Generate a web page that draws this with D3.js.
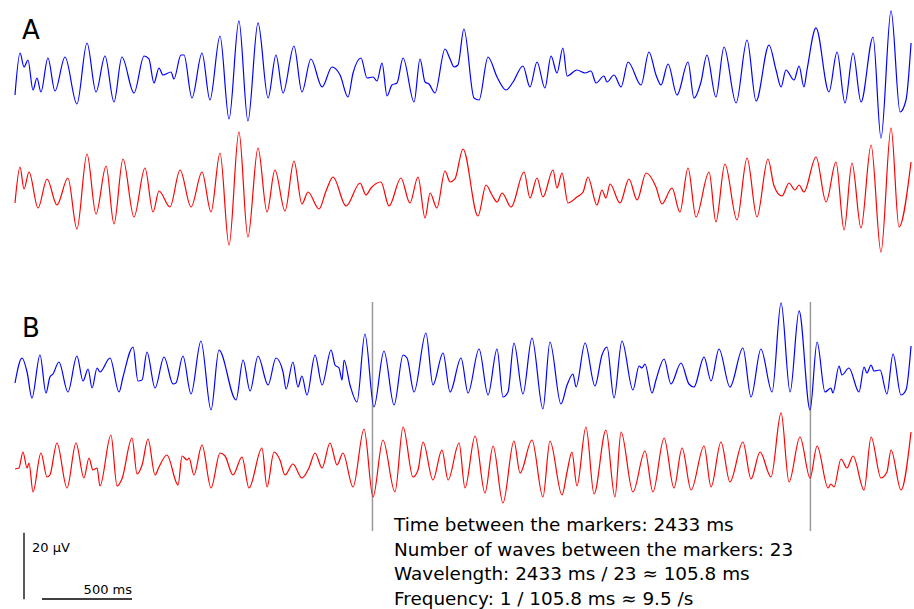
<!DOCTYPE html>
<html>
<head>
<meta charset="utf-8">
<script src="https://cdn.jsdelivr.net/npm/d3@7"></script>
<style>
  html, body { margin: 0; padding: 0; background: #ffffff; }
  svg { display: block; font-family: "DejaVu Sans", Verdana, sans-serif; }
</style>
</head>
<body>
<svg id="chart" width="914" height="609"></svg>
<script>
// ---- DATA (time in ms, amplitude in µV) ----
const panelLabels = ["A", "B"];
const seriesNames = ["channel 1", "channel 2"];

const traceABlue = [[0,-5.4],[28,7.2],[50,3.0],[72,5.1],[100,-3.9],[122,-0.3],[144,-4.5],[183,5.7],[222,-4.2],[278,6.0],[344,-8.1],[400,10.2],[450,-4.5],[500,6.3],[550,-7.5],[594,6.0],[661,-4.8],[717,6.3],[744,5.4],[772,-1.8],[800,2.7],[822,0.6],[867,1.5],[883,-0.6],[922,6.6],[939,6.6],[983,-6.3],[1039,7.2],[1083,-6.9],[1139,12.3],[1189,-12.6],[1244,16.8],[1294,-13.2],[1350,16.2],[1406,-6.3],[1450,6.6],[1489,-4.8],[1550,9.3],[1594,-4.5],[1644,5.4],[1706,-3.0],[1761,3.0],[1806,0.6],[1850,-6.0],[1878,1.2],[1922,5.7],[1956,-0.3],[1989,0],[2011,-1.2],[2039,4.2],[2067,-5.7],[2094,-2.4],[2122,-1.8],[2156,5.7],[2217,-7.5],[2250,5.4],[2278,-1.5],[2300,-2.1],[2333,-4.8],[2389,8.4],[2417,5.4],[2439,3.0],[2461,3.6],[2494,14.4],[2550,-6.3],[2578,-6.9],[2628,6.0],[2678,0],[2728,-3.9],[2767,-1.5],[2822,3.3],[2861,-3.0],[2900,4.5],[2944,-3.3],[2978,6.3],[3011,1.2],[3044,8.7],[3067,0.3],[3122,2.1],[3167,1.2],[3200,1.8],[3228,-1.8],[3272,0.3],[3289,-1.5],[3328,0.6],[3367,-3.0],[3406,4.5],[3478,-2.4],[3522,7.5],[3561,0.6],[3589,-2.4],[3628,3.9],[3678,-5.4],[3739,4.5],[3772,-6.3],[3811,-1.5],[3844,6.6],[3894,-6.0],[3939,9.0],[4006,-7.8],[4067,11.1],[4117,-7.2],[4189,9.6],[4228,2.1],[4256,-3.0],[4283,2.1],[4328,-0.9],[4356,3.3],[4383,-3.0],[4400,2.1],[4450,14.7],[4522,-4.5],[4567,7.5],[4611,-7.8],[4656,7.2],[4700,-7.5],[4767,12.0],[4811,-18.3],[4867,19.8],[4917,-10.5],[4950,-6.9],[4978,10.2]];

const traceARed = [[0,-3.9],[28,6.9],[50,0.3],[78,5.4],[128,-5.4],[178,3.3],[233,-4.5],[294,3.6],[344,-11.7],[400,10.8],[450,-7.2],[506,7.2],[550,-10.2],[600,9.3],[661,-8.1],[722,6.6],[767,-6.6],[800,-0.3],[861,-5.1],[917,6.0],[978,-5.1],[1039,5.4],[1089,-6.6],[1139,11.1],[1189,-16.5],[1244,17.4],[1294,-14.1],[1350,12.6],[1400,-6.6],[1444,6.0],[1500,-6.3],[1550,8.7],[1594,-4.2],[1628,-0.6],[1689,-5.7],[1728,-0.3],[1767,3.9],[1839,-4.8],[1917,2.1],[1950,-1.5],[1978,0.6],[2033,2.4],[2078,-4.8],[2144,3.6],[2194,-3.9],[2239,3.9],[2278,-8.4],[2306,-0.9],[2344,-5.4],[2389,5.7],[2417,2.4],[2444,3.3],[2489,12.3],[2572,-7.8],[2617,1.5],[2650,-1.5],[2678,-3.6],[2706,-0.9],[2756,-5.1],[2828,5.4],[2861,-2.4],[2900,3.6],[2933,-2.1],[2989,6.0],[3011,0.6],[3039,5.1],[3072,-3.9],[3122,-2.1],[3156,-0.6],[3183,3.9],[3233,-4.5],[3261,0],[3283,-2.4],[3306,1.8],[3361,-3.9],[3411,3.3],[3456,-3.0],[3506,5.1],[3561,0.9],[3594,-4.2],[3650,0.6],[3694,-6.6],[3739,6.6],[3783,-8.1],[3856,5.4],[3894,-9.6],[3944,7.8],[4011,-9.0],[4067,9.6],[4122,-8.1],[4183,9.3],[4217,1.2],[4261,-1.8],[4300,2.1],[4333,0],[4356,1.5],[4383,-0.6],[4450,9.9],[4506,-3.6],[4561,8.4],[4606,-12.0],[4650,8.1],[4700,-11.4],[4756,13.5],[4811,-18.6],[4867,18.6],[4911,-11.1],[4978,8.4]];

const traceBBlue = [[0,-2.4],[39,5.1],[67,0.9],[94,-6.9],[139,6.0],[172,-5.4],[194,-0.6],[211,0.3],[244,3.9],[294,-5.1],[344,5.7],[378,-1.8],[406,1.8],[428,-3.9],[456,2.1],[472,0.9],[528,5.1],[578,-5.1],[600,-0.6],[656,8.4],[683,-1.8],[706,-1.5],[733,6.9],[778,-3.9],[828,5.4],[878,-2.7],[894,-2.4],[933,5.7],[978,-5.7],[1033,10.2],[1089,-10.5],[1133,7.5],[1228,-7.5],[1267,4.5],[1306,-4.8],[1350,5.7],[1406,-3.0],[1450,5.1],[1489,0.9],[1506,-4.2],[1544,3.9],[1572,-3.6],[1594,-0.3],[1622,-6.0],[1667,6.0],[1706,-3.0],[1756,7.5],[1778,3.0],[1800,2.1],[1817,-1.5],[1828,4.5],[1861,-3.0],[1900,-8.1],[1944,12.3],[1994,-9.6],[2050,7.2],[2106,-9.0],[2156,6.0],[2178,5.1],[2217,-5.1],[2283,12.6],[2322,-3.0],[2378,6.6],[2417,-5.1],[2478,5.1],[2517,-5.4],[2578,7.8],[2628,-6.0],[2678,7.8],[2711,-6.6],[2739,-5.1],[2772,9.6],[2822,-5.7],[2872,11.1],[2933,-10.2],[2972,9.9],[3033,-8.7],[3067,-3.0],[3100,0.3],[3117,-3.6],[3167,9.6],[3222,-3.3],[3261,6.0],[3289,8.4],[3328,-6.9],[3372,10.2],[3433,-4.5],[3467,2.7],[3483,2.1],[3500,3.3],[3539,-5.4],[3561,-1.5],[3606,4.8],[3644,-2.7],[3700,3.6],[3744,-2.7],[3772,-3.6],[3828,5.4],[3867,-1.8],[3911,7.8],[3972,-3.6],[4044,8.1],[4089,-6.6],[4144,7.8],[4206,-5.1],[4256,21.6],[4306,-5.1],[4356,19.2],[4417,-10.5],[4456,9.9],[4500,-5.1],[4533,-3.9],[4544,-5.4],[4578,2.7],[4594,0],[4633,2.1],[4689,-5.1],[4717,2.4],[4733,0.6],[4756,3.0],[4772,1.2],[4806,1.5],[4844,-5.7],[4878,6.3],[4922,-6.0],[4950,-4.5],[4978,8.7]];

const traceBRed = [[0,0.3],[22,0.6],[44,5.4],[67,0.6],[78,2.1],[100,-6.6],[144,5.1],[178,-2.1],[194,-1.5],[233,8.1],[289,-5.4],[339,8.1],[383,-2.4],[411,3.6],[433,0],[456,0.6],[472,-4.8],[533,10.5],[567,-4.8],[594,-2.7],[650,9.6],[678,-1.2],[706,1.5],[739,9.3],[778,-1.5],[800,0.9],[844,4.5],[906,-4.5],[928,4.2],[956,3.0],[967,3.6],[994,-1.5],[1039,7.5],[1089,-5.4],[1139,5.1],[1167,4.2],[1211,-1.5],[1261,3.9],[1300,-5.4],[1372,6.6],[1400,-5.1],[1439,5.4],[1472,3.0],[1500,-1.5],[1544,1.8],[1594,-2.4],[1633,0.6],[1667,5.1],[1706,0.6],[1750,8.1],[1789,1.5],[1822,5.1],[1878,-5.1],[1939,12.3],[1989,-8.1],[2044,9.0],[2111,-6.6],[2156,12.9],[2211,-2.1],[2239,0],[2267,8.4],[2322,-3.0],[2372,6.0],[2406,-3.0],[2467,8.1],[2500,-5.4],[2556,10.2],[2611,-6.9],[2656,7.2],[2711,-9.9],[2772,8.7],[2806,-0.9],[2872,9.0],[2933,-8.1],[2972,8.7],[3039,-7.5],[3067,-0.6],[3094,5.4],[3122,-4.8],[3172,12.9],[3217,-7.2],[3283,12.0],[3333,-8.1],[3367,11.4],[3433,-6.6],[3500,5.7],[3544,-6.6],[3606,9.6],[3661,-5.4],[3706,6.6],[3756,-6.0],[3828,7.2],[3867,-5.1],[3922,8.4],[3972,-3.6],[4044,8.4],[4089,-2.7],[4139,5.4],[4200,-2.1],[4256,17.1],[4300,-3.6],[4361,9.9],[4417,-2.4],[4456,7.2],[4517,-5.4],[4533,-4.2],[4550,-5.1],[4589,3.3],[4622,0.6],[4656,4.2],[4717,-6.0],[4756,9.9],[4811,-2.4],[4844,-0.6],[4867,6.0],[4922,-6.0],[4978,11.4]];

const markerTimes = [1986, 4419];          // ms, panel B
const scaleBarAmplitude = 20;              // µV
const scaleBarDuration = 500;              // ms
const infoLines = [
  "Time between the markers: 2433 ms",
  "Number of waves between the markers: 23",
  "Wavelength: 2433 ms / 23 \u2248 105.8 ms",
  "Frequency: 1 / 105.8 ms \u2248 9.5 /s"
];

// ---- DRAWING ----
const svg = d3.select("#chart");
const x = d3.scaleLinear().domain([0, 5000]).range([15, 915]);
const pxPerUV = 3.335;
function yScale(base) {
  return d3.scaleLinear().domain([-20, 20]).range([base + 20 * pxPerUV, base - 20 * pxPerUV]);
}

const traces = [
  { data: traceABlue, base: 77,  color: "#0000ff" },
  { data: traceARed,  base: 190, color: "#ff0000" },
  { data: traceBBlue, base: 375, color: "#0000ff" },
  { data: traceBRed,  base: 470, color: "#ff0000" }
];

// markers (drawn first so traces are above)
svg.selectAll("line.marker").data(markerTimes).join("line")
  .attr("class", "marker")
  .attr("x1", d => x(d)).attr("x2", d => x(d))
  .attr("y1", 302).attr("y2", 531)
  .attr("stroke", "#9a9a9a").attr("stroke-width", 1.5);

traces.forEach(tr => {
  const y = yScale(tr.base);
  const line = d3.line().x(d => x(d[0])).y(d => y(d[1])).curve(d3.curveMonotoneX);
  svg.append("path").datum(tr.data)
    .attr("d", line)
    .attr("fill", "none")
    .attr("stroke", tr.color)
    .attr("stroke-width", 1.2)
    .attr("stroke-linejoin", "round");
});

// panel labels
svg.selectAll("text.panel").data(panelLabels).join("text")
  .attr("class", "panel")
  .attr("x", 22)
  .attr("y", (d, i) => i === 0 ? 39 : 337)
  .attr("font-size", 26)
  .attr("fill", "#000")
  .text(d => d);

// scale bars
const ys = yScale(566);
svg.append("line")
  .attr("x1", 24).attr("x2", 24)
  .attr("y1", ys(-10)).attr("y2", ys(-10 + scaleBarAmplitude))
  .attr("stroke", "#000").attr("stroke-width", 1.3);
svg.append("line")
  .attr("x1", 42).attr("x2", 42 + (x(scaleBarDuration) - x(0)))
  .attr("y1", 599).attr("y2", 599)
  .attr("stroke", "#000").attr("stroke-width", 1.3);
svg.append("text").attr("x", 32).attr("y", 552)
  .attr("font-size", 13).attr("fill", "#000").text(scaleBarAmplitude + " \u00b5V");
svg.append("text").attr("x", 42 + (x(scaleBarDuration) - x(0))).attr("y", 594)
  .attr("text-anchor", "end")
  .attr("font-size", 13).attr("fill", "#000").text(scaleBarDuration + " ms");

// info text
svg.selectAll("text.info").data(infoLines).join("text")
  .attr("class", "info")
  .attr("x", 394)
  .attr("y", (d, i) => 531 + i * 24.5)
  .attr("font-size", 18.4)
  .attr("fill", "#000")
  .text(d => d);
</script>
</body>
</html>
